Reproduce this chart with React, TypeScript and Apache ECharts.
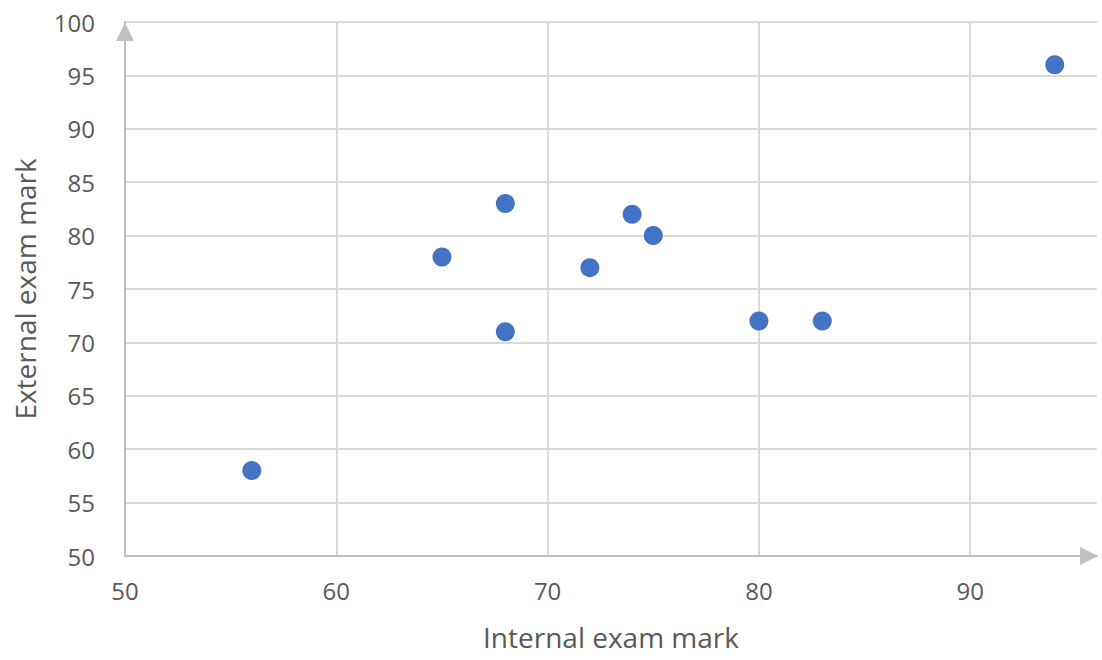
import React, { useEffect, useRef } from "react";
import * as echarts from "echarts";

const internalMarks = [56, 65, 68, 68, 72, 74, 75, 80, 83, 94];
const externalMarks = [58, 78, 83, 71, 77, 82, 80, 72, 72, 96];
const xAxisTitle = "Internal exam mark";
const yAxisTitle = "External exam mark";

const FONT = "'Open Sans', 'Noto Sans', sans-serif";
const TEXT_COLOR = "#595959";

export default function App() {
  const ref = useRef<HTMLDivElement>(null);
  useEffect(() => {
    if (!ref.current) return;
    const chart = echarts.init(ref.current, undefined, { renderer: "svg" });
    const points = internalMarks.map((x, i) => [x, externalMarks[i]]);
    chart.setOption({
      animation: false,
      backgroundColor: "#ffffff",
      grid: { left: 125, right: 5, top: 22, bottom: 104, containLabel: false },
      xAxis: {
        type: "value",
        min: 50,
        max: 96,
        interval: 10,
        name: xAxisTitle,
        nameLocation: "middle",
        nameGap: 67,
        nameTextStyle: { color: TEXT_COLOR, fontFamily: FONT, fontSize: 28 },
        axisLine: {
          show: true,
          symbol: ["none", "triangle"],
          symbolSize: [18, 18],
          symbolOffset: [0, -8],
          lineStyle: { color: "#bfbfbf", width: 2 },
        },
        axisTick: { show: false },
        axisLabel: {
          color: TEXT_COLOR,
          fontFamily: FONT,
          fontSize: 24,
          margin: 22,
          showMaxLabel: false,
        },
        splitLine: { show: true, showMaxLine: false, lineStyle: { color: "#d9d9d9", width: 2 } },
      },
      yAxis: {
        type: "value",
        min: 50,
        max: 100,
        interval: 5,
        name: yAxisTitle,
        nameLocation: "middle",
        nameGap: 86,
        nameTextStyle: { color: TEXT_COLOR, fontFamily: FONT, fontSize: 28 },
        axisLine: {
          show: true,
          symbol: ["none", "triangle"],
          symbolSize: [18, 18],
          symbolOffset: [0, -10],
          lineStyle: { color: "#bfbfbf", width: 2 },
        },
        axisTick: { show: false },
        axisLabel: { color: TEXT_COLOR, fontFamily: FONT, fontSize: 24, margin: 30 },
        splitLine: { show: true, lineStyle: { color: "#d9d9d9", width: 2 } },
      },
      series: [
        {
          type: "scatter",
          data: points,
          symbol: "circle",
          symbolSize: 19,
          itemStyle: { color: "#4472c4", opacity: 1 },
        },
      ],
    });
    return () => chart.dispose();
  }, []);
  return <div ref={ref} style={{ width: 1102, height: 660, position: "absolute", left: 0, top: 0 }} />;
}
